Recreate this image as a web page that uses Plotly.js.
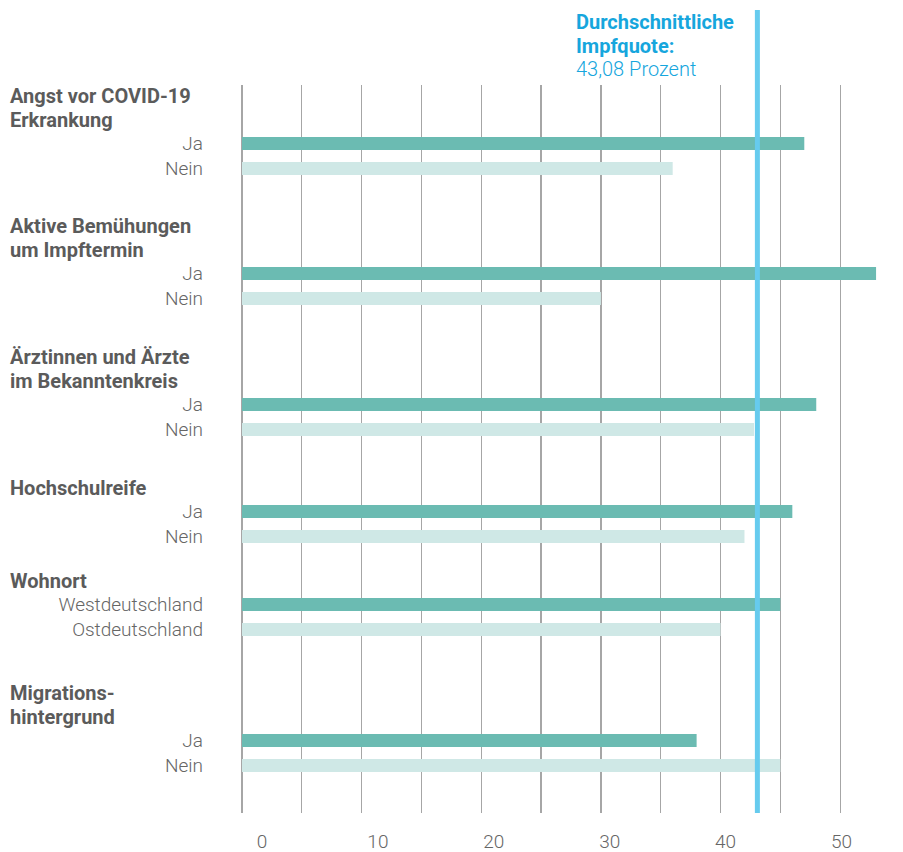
<!DOCTYPE html>
<html>
<head>
<meta charset="utf-8">
<script src="https://cdn.plot.ly/plotly-3.0.1.min.js"></script>
<style>html,body{margin:0;padding:0;background:#fff;}#chart{width:903px;height:852px;}</style>
</head>
<body>
<div id="chart"></div>
<script>
// ---- data ----
const groupTitles = ["Angst vor COVID-19<br>Erkrankung", "Aktive Bemühungen<br>um Impftermin", "Ärztinnen und Ärzte<br>im Bekanntenkreis", "Hochschulreife", "Wohnort", "Migrations-<br>hintergrund"];
const firstLabels = ["Ja", "Ja", "Ja", "Ja", "Westdeutschland", "Ja"];
const secondLabels = ["Nein", "Nein", "Nein", "Nein", "Ostdeutschland", "Nein"];
const firstValues = [47, 53, 48, 46, 45, 38];
const secondValues = [36, 30, 42.8, 42, 40, 45];
const averageRate = 43.08;
const averageLines = ["<b>Durchschnittliche</b>", "<b>Impfquote:</b>", averageRate.toFixed(2).replace(".", ",") + " Prozent"];
const xTickValues = [0, 10, 20, 30, 40, 50];

// ---- layout constants ----
const W = 903, H = 852;
const M = {l: 242, r: 3, t: 85, b: 39};
const plotW = W - M.l - M.r;
const plotH = H - M.t - M.b;
const groupTopPx = [131, 261, 392, 499, 592, 728]; // top of each group's bar band (page px)
const bandPx = 50;
const lineStep = 23.6;
const darkColor = "#6bbbb2", lightColor = "#cfe8e6";
const textGrey = "#5b5b5b";
const blue = "#66cbee", blueText = "#16a6dd";
const FONT = "Roboto, 'Liberation Sans', Arial, sans-serif";

const pxToPaper = py => (H - M.b - py) / plotH;
const pxToPaperX = px => (px - M.l) / plotW;

const traces = [];
const layout = {
  width: W, height: H,
  margin: M,
  paper_bgcolor: "#fff",
  plot_bgcolor: "rgba(0,0,0,0)",
  showlegend: false,
  font: {family: FONT, color: textGrey, size: 19},
  xaxis: {
    range: [0, 55], dtick: 5, tick0: 0, showgrid: true, gridcolor: "#a6a6a6", gridwidth: 1.2,
    zeroline: true, zerolinecolor: "#a6a6a6", zerolinewidth: 1.2,
    showticklabels: false, ticks: "", showline: false, fixedrange: true, anchor: "y"
  },
  xaxis2: {
    overlaying: "x", anchor: "y", side: "bottom",
    range: [-1.726, 55.05], tickmode: "array", tickvals: xTickValues,
    ticktext: xTickValues.map(String),
    showgrid: false, zeroline: false, ticks: "", showline: false,
    tickfont: {family: FONT, size: 19, color: "#666", weight: 300},
    ticklabelstandoff: 15, fixedrange: true
  },
  yaxis: {domain: [0, 1], range: [0, 1], visible: false, fixedrange: true},
  annotations: [],
  shapes: []
};

// base subplots: full-height gridlines and bottom tick labels
traces.push({type: "scatter", x: [], y: [], xaxis: "x", yaxis: "y", hoverinfo: "skip", showlegend: false});
traces.push({type: "scatter", x: [], y: [], xaxis: "x2", yaxis: "y", hoverinfo: "skip", showlegend: false});

groupTitles.forEach((title, i) => {
  const yName = "y" + (i + 2);
  const axKey = "yaxis" + (i + 2);
  const top = groupTopPx[i];
  layout[axKey] = {
    domain: [pxToPaper(top + bandPx), pxToPaper(top)],
    type: "category",
    categoryorder: "array",
    categoryarray: [firstLabels[i], secondLabels[i]],
    range: [1.5, -0.5],
    anchor: "x",
    showgrid: false, zeroline: false, showline: false, ticks: "",
    tickfont: {family: FONT, size: 19, color: "#666", weight: 300},
    ticklabelstandoff: 38,
    fixedrange: true
  };
  traces.push({
    type: "bar", orientation: "h",
    x: [firstValues[i], secondValues[i]],
    y: [firstLabels[i], secondLabels[i]],
    xaxis: "x", yaxis: yName,
    marker: {color: [darkColor, lightColor], line: {width: 0}},
    width: 0.52,
    hoverinfo: "x+y"
  });
  const lines = title.split("<br>");
  lines.forEach((ln, j) => {
    layout.annotations.push({
      xref: "paper", x: pxToPaperX(8), xanchor: "left", align: "left",
      yref: yName, y: 0, yanchor: "middle", yshift: lineStep * (lines.length - j),
      text: ln, showarrow: false,
      font: {family: FONT, size: 20, color: textGrey, weight: "bold"}
    });
  });
});

// average line
layout.shapes.push({
  type: "line", xref: "x", yref: "paper",
  x0: averageRate, x1: averageRate, y0: 0, y1: pxToPaper(10),
  line: {color: blue, width: 5}, layer: "above"
});
averageLines.forEach((ln, j) => {
  layout.annotations.push({
    xref: "paper", x: pxToPaperX(574), xanchor: "left", align: "left",
    yref: "paper", y: pxToPaper(22 + 23.7 * j), yanchor: "middle",
    text: ln, showarrow: false,
    font: {family: FONT, size: 20, color: blueText, weight: j < 2 ? "normal" : 300}
  });
});

Plotly.newPlot("chart", traces, layout, {displayModeBar: false, staticPlot: true});
</script>
</body>
</html>
